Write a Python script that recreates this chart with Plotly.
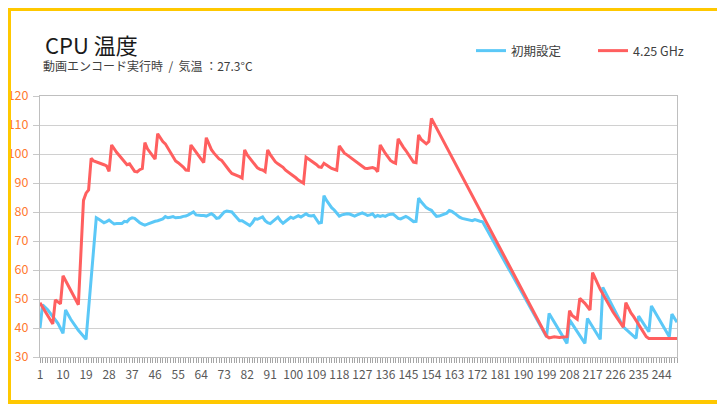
import plotly.graph_objects as go

# ---- axis labels ----
x_tick_vals = list(range(1, 251, 9))          # 1, 10, 19, ... 244
x_tick_text = [str(v) for v in x_tick_vals]
y_tick_vals = list(range(30, 121, 10))

# ---- series 1: 初期設定 (blue) ----
blue_head_idx = [1, 2, 4, 6, 8, 10, 11, 13, 16, 19]
blue_head_val = [40, 48, 46.3, 44, 41.6, 38.2, 46.2, 43, 39.2, 36.1]
blue_a_start = 23
blue_a_val = [78, 77.5, 77, 76.3, 76.7, 77.2, 76.5, 75.9, 76, 76, 76, 76.8, 76.6, 77.6,
              78, 77.8, 77, 76.3, 75.8, 75.5, 75.8, 76.2, 76.6, 76.8, 77, 77.2, 77.6, 78.4]
blue_b_start = 51
blue_b_val = [78, 78.2, 78.4, 78, 78, 78.2, 78.5, 78.6, 79, 79.4,
              80, 79, 78.8, 78.8, 78.8, 78.6, 79, 79.4, 78.8, 77.8,
              78, 79, 80, 80.3, 80.2, 80, 79, 78, 77, 77,
              76.5, 75.8, 75.3, 76.3, 77.7, 77.5, 77.8, 78.3, 77, 76.3,
              76, 76.8, 77.5, 78.2, 77, 76.1, 76.8, 77.6, 78.2]
blue_c_start = 100
blue_c_val = [77.8, 78.3, 78.7, 78.3, 79, 79.4, 78.8, 78.6, 78.8, 77.5,
              76.2, 76.4, 85.6, 84, 82.5, 81.5, 80.7, 79.8, 78.6, 79,
              79.3, 79.4, 79.3, 79, 78.6, 79, 79.4, 79.7, 79.3, 78.8,
              79, 79.4, 78.3, 78.8, 78.5, 78.8, 78.5, 79, 79.2, 79.3,
              78.6, 77.8, 77.6, 78, 78.5, 78, 77.2, 76.7, 76.8, 84.8,
              83.5, 82.3, 81.5, 81, 80.6, 79.5, 78.5, 78.6, 79, 79.4,
              79.6, 80.5, 80.2, 79.6, 78.8, 78.2, 77.8, 77.6, 77.5, 77.2,
              77, 77.4, 77, 76.8, 76.6]
blue_tail_idx = [199, 200, 207, 208, 214, 215, 220, 221, 229, 234, 235, 239, 240, 247, 248, 250]
blue_tail_val = [37, 45, 34.7, 42.8, 34.7, 43.3, 36.1, 54, 40.4, 36.4, 44.1, 38.7, 47.6, 37, 44.8, 42]

# ---- series 2: 4.25 GHz (red) ----
red_head_idx = [1, 6, 7, 8, 9, 10, 16, 18, 19, 20]
red_head_val = [48.7, 41.4, 49.7, 49, 48.3, 58, 48, 84, 86.5, 87.6]
red_a_start = 21
red_a_val = [98.5, 97.6, 97.3, 97.1, 96.6, 96.3, 95.9, 94, 103.1, 101.6,
             100.5, 99.5, 98.3, 97.4, 96.3, 96.6, 95.3, 94, 93.8, 94.6,
             95, 103.9, 101.8, 100.5, 99.5, 98.2, 107, 105.5, 104.3, 103.5,
             102, 100.3, 98.8, 97.6, 97, 96.4, 95.5, 94.5, 94.4, 103.1,
             101.8, 100.5, 99.2, 98, 97, 105.6, 103.5, 101.5, 100.3, 99.2,
             98.3, 97.8, 96.5, 95.5, 94.3, 93.3, 93, 92.6, 92.2, 91.7,
             101.4, 99.7, 98.6, 97.3, 96.4, 95.2, 94.7, 94.5, 93.9, 101.4,
             99.8, 98.6, 97.3, 96.6, 96, 95.4, 94.4, 93.8, 93.1, 92.5,
             91.8, 91, 90.5, 89.9, 98.9, 98.3, 97.8, 97.3, 96.4, 95.6,
             95.4, 96.8, 96.3, 95.6, 95, 94.6, 94.4, 102.8, 101.3, 100.3,
             99.7, 99, 98.3, 97.6, 96.9, 96.3, 95.7, 95.1, 95, 95.1,
             95.3, 95, 93.9, 103.1, 101.5, 100.2, 99, 97.8, 97.2, 96.8,
             105.2, 103.6, 102.4, 101.2, 100, 98.4, 97.2, 97, 106.6, 105,
             104.2, 103.5, 104.3, 112.3]
red_tail_idx = [199, 200, 202, 204, 207, 208, 209, 211, 212, 214, 216, 217, 220, 225,
                229, 230, 232, 233, 238, 239, 250]
red_tail_val = [37.2, 36.6, 37, 36.7, 37, 46, 44.3, 43, 50.2, 48.5, 46.2, 59.1, 53.3, 45.5,
                40.3, 48.7, 45.2, 44, 37, 36.4, 36.4]


def build(head_i, head_v, chunks, tail_i, tail_v):
    xs, ys = list(head_i), list(head_v)
    for start, vals in chunks:
        xs += list(range(start, start + len(vals)))
        ys += list(vals)
    xs += tail_i
    ys += tail_v
    return xs, ys


bx, by = build(blue_head_idx, blue_head_val,
               [(blue_a_start, blue_a_val), (blue_b_start, blue_b_val), (blue_c_start, blue_c_val)],
               blue_tail_idx, blue_tail_val)
rx, ry = build(red_head_idx, red_head_val, [(red_a_start, red_a_val)],
               red_tail_idx, red_tail_val)

FONT = "Noto Sans CJK JP, Noto Sans, sans-serif"

fig = go.Figure()
fig.add_trace(go.Scatter(x=bx, y=by, mode="lines", name="初期設定",
                         line=dict(color="#5BC8F7", width=3)))
fig.add_trace(go.Scatter(x=rx, y=ry, mode="lines", name="4.25 GHz",
                         line=dict(color="#FF5F5F", width=3)))

# The page body adds an 8px offset; the figure is sized to fill the rest of the window.
OFF = 8
W, H = 725 - OFF, 405 - OFF
# plot area in window pixels: x 40..677, y 96..357
L = 40 - OFF
T = 96 - OFF
R = W - (677 - OFF)
B = H - (357 - OFF)
pw, ph = W - L - R, H - T - B


def px(x):      # window pixel -> paper x
    return (x - OFF - L) / pw


def py(y):      # window pixel -> paper y
    return (H - B - (y - OFF)) / ph


fig.update_layout(
    width=W, height=H,
    margin=dict(l=L, r=R, t=T, b=B, autoexpand=False),
    paper_bgcolor="white", plot_bgcolor="white",
    font=dict(family=FONT, size=12, color="#404040"),
    showlegend=True,
    legend=dict(orientation="h", xref="container", yref="container",
                x=(477 - OFF - 6) / W, xanchor="left", y=1 - (51 - OFF) / H, yanchor="middle",
                font=dict(size=12.5, color="#404040"), entrywidth=77, entrywidthmode="pixels",
                bgcolor="rgba(0,0,0,0)", itemclick=False),
    xaxis=dict(range=[1, 250], tickmode="array", tickvals=x_tick_vals, ticktext=x_tick_text,
               ticks="outside", ticklen=5, tickcolor="#A6A6A6", showgrid=False, zeroline=False,
               showline=True, linecolor="#BFBFBF", linewidth=1, mirror=True, automargin=False,
               ticklabelstandoff=2,
               tickfont=dict(size=12, color="#595959"),
               minor=dict(tickmode="linear", tick0=1, dtick=1, ticks="outside", ticklen=5,
                          tickcolor="#A6A6A6", showgrid=False)),
    yaxis=dict(range=[30, 120], tickmode="array", tickvals=y_tick_vals,
               ticks="outside", ticklen=6, tickcolor="#C8C8C8", showgrid=True, gridcolor="#D0D0D0",
               zeroline=False, showline=True, linecolor="#BFBFBF", linewidth=1, mirror=True,
               automargin=False, ticklabelstandoff=2,
               tickfont=dict(size=12.5, color="#FF7A30")),
    annotations=[
        dict(text="CPU 温度", xref="paper", yref="paper", x=px(43), y=py(43.5),
             xanchor="left", yanchor="middle", showarrow=False,
             font=dict(size=22, color="#1A1A1A", family=FONT)),
        dict(text="動画エンコード実行時  /  気温 ：27.3°C", xref="paper", yref="paper",
             x=px(41), y=py(66), xanchor="left", yanchor="middle", showarrow=False,
             font=dict(size=12, color="#404040", family=FONT)),
    ],
    shapes=[dict(type="rect", xref="paper", yref="paper",
                 x0=px(OFF + 1), x1=px(723), y0=py(402), y1=py(OFF + 1),
                 line=dict(color="#FFC800", width=4), fillcolor="rgba(0,0,0,0)", layer="above")],
)

fig.write_html("out.html")
